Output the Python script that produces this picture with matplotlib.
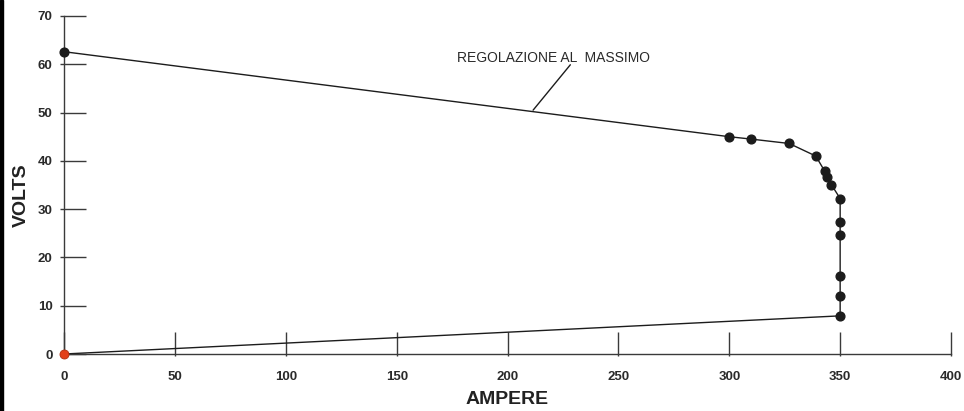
import matplotlib
matplotlib.use("Agg")
import matplotlib.pyplot as plt
from matplotlib.patches import Rectangle

plt.rcParams["font.family"] = ["Liberation Sans", "DejaVu Sans"]

# Static characteristic of the welder at maximum setting
ampere = [0, 300, 310, 327, 339, 343, 344, 346, 350, 350, 350, 350, 350, 350]
volts = [62.6, 45.0, 44.5, 43.6, 41.0, 37.9, 36.7, 35.1, 32.2, 27.4, 24.6, 16.2, 12.1, 7.9]

# Return branch to the origin
return_ampere = [350, 0]
return_volts = [7.9, 0]

x_ticks = [0, 50, 100, 150, 200, 250, 300, 350, 400]
y_ticks = [0, 10, 20, 30, 40, 50, 60, 70]

curve_label = "REGOLAZIONE AL  MASSIMO"

ink = "#1c1c1c"
axis_col = "#3a3a3a"

fig = plt.figure(figsize=(9.64, 4.11), dpi=100)
ax = fig.add_axes([64.2 / 964, 57 / 411, 886.8 / 964, 338 / 411])

ax.plot(ampere, volts, color=ink, lw=1.0, marker="o", ms=6.3,
        mfc=ink, mec=ink, zorder=3, clip_on=False)
ax.plot(return_ampere, return_volts, color=ink, lw=1.0, zorder=2, clip_on=False)
ax.plot([return_ampere[-1]], [return_volts[-1]], marker="o", ms=6.5,
        mfc="#e2401a", mec="#b03010", mew=0.6, ls="none", zorder=4, clip_on=False)

ax.set_xlim(0, 400)
ax.set_ylim(0, 70)

for side in ("top", "right"):
    ax.spines[side].set_visible(False)
for side in ("left", "bottom"):
    ax.spines[side].set_color(axis_col)
    ax.spines[side].set_linewidth(1.0)

ax.set_xticks(x_ticks)
ax.set_yticks(y_ticks)
ax.set_xticks(x_ticks, minor=True)
ax.set_yticks(y_ticks, minor=True)
ax.xaxis.remove_overlapping_locs = False
ax.yaxis.remove_overlapping_locs = False

ax.tick_params(axis="x", which="major", direction="in", length=15.8, width=1.0,
               color=axis_col, pad=12.5, labelsize=9.5)
ax.tick_params(axis="y", which="major", direction="in", length=15.8, width=1.0,
               color=axis_col, pad=8.5, labelsize=9.5)
ax.tick_params(axis="x", which="minor", direction="out", length=1.5, width=1.0,
               color=axis_col, labelbottom=False)
ax.tick_params(axis="y", which="minor", direction="out", length=3.0, width=1.0,
               color=axis_col, labelleft=False)
for lab in ax.get_xticklabels() + ax.get_yticklabels():
    lab.set_fontweight("bold")
    lab.set_color("#2a2a2a")

ax.set_xlabel("AMPERE", fontsize=14, fontweight="bold", color="#222222",
              ha="center", va="center")
ax.set_ylabel("VOLTS", fontsize=14, fontweight="bold", color="#222222",
              ha="center", va="center")
ax.xaxis.set_label_coords(0.4994, -0.136)
ax.yaxis.set_label_coords(-0.0485, 0.47)

# Curve label with a leader line onto the upper branch
ax.text(220.5, 61.4, curve_label, fontsize=10, color="#2a2a2a",
        ha="center", va="center")
ax.annotate("", xy=(211.5, 50.5), xytext=(228.3, 59.9),
            arrowprops=dict(arrowstyle="-", color=ink, lw=1.0,
                            shrinkA=0, shrinkB=0))

# Dark frame edge on the left of the sheet
fig.patches.append(Rectangle((0, 0), 3 / 964, 1, transform=fig.transFigure,
                             color="black", zorder=10))

fig.savefig("out.png", dpi=100, facecolor="white")
